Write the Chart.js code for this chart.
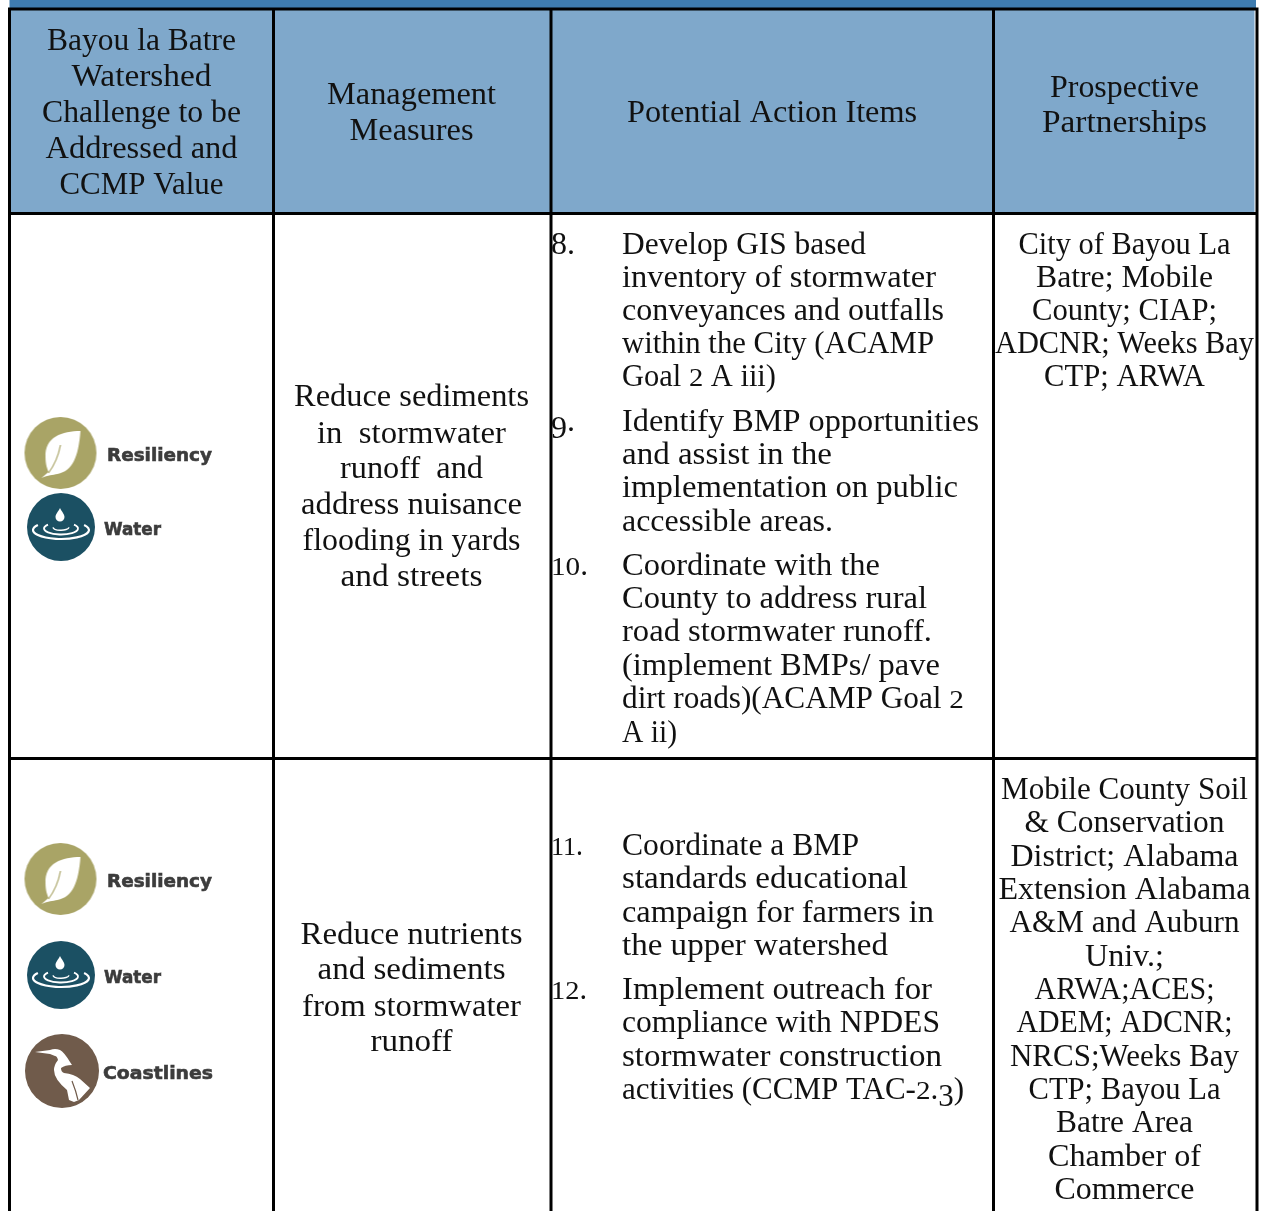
<!DOCTYPE html>
<html>
<head>
<meta charset="utf-8">
<title>Bayou la Batre Watershed</title>
<script src="https://cdn.jsdelivr.net/npm/chart.js@4"></script>
<style>
  html, body { margin: 0; padding: 0; background: #fff; }
  canvas { display: block; }
</style>
</head>
<body>
<canvas id="tableChart" width="1262" height="1211"></canvas>
<script>
// table grid, in picture units
const columnEdges = [9.5, 273.5, 551, 993.5, 1257];
const rowEdges = [9, 213.5, 758.5, 1211];
const columnCentres = [141.5, 411.5, 772, 1124.5];

// header row
const headerOne = ['Bayou la Batre', 'Watershed', 'Challenge to be', 'Addressed and', 'CCMP Value'];
const headerOneY = [50, 86, 122, 158, 194];
const headerOneW = [189, 140, 199, 192, 164];
const headerTwo = ['Management', 'Measures'];
const headerTwoY = [104, 140];
const headerTwoW = [169, 124];
const headerThree = ['Potential Action Items'];
const headerThreeY = [122];
const headerThreeW = [290];
const headerFour = ['Prospective', 'Partnerships'];
const headerFourY = [97, 132];
const headerFourW = [149, 165];

// first body row
const measuresOne = ['Reduce sediments', 'in  stormwater', 'runoff  and', 'address nuisance', 'flooding in yards', 'and streets'];
const measuresOneY = [406, 443, 478, 514, 550, 586];
const measuresOneW = [235, 189, 143, 221, 218, 142];
const actionNumbersOne = ['8.', '9.', '10.'];
const actionNumbersOneY = [254, 431, 575];
const actionNumbersOneW = [24, 24, 37];
const actionsOne = [
  'Develop GIS based', 'inventory of stormwater', 'conveyances and outfalls',
  'within the City (ACAMP', 'Goal 2 A iii)',
  'Identify BMP opportunities', 'and assist in the', 'implementation on public', 'accessible areas.',
  'Coordinate with the', 'County to address rural', 'road stormwater runoff.',
  '(implement BMPs/ pave', 'dirt roads)(ACAMP Goal 2', 'A ii)'
];
const actionsOneY = [254, 287, 320, 353, 386, 431, 464, 497, 531, 575, 608, 641, 675, 708, 742];
const actionsOneW = [244, 314, 322, 312, 154, 357, 210, 336, 211, 258, 305, 310, 318, 342, 55];
const partnersOne = ['City of Bayou La', 'Batre; Mobile', 'County; CIAP;', 'ADCNR; Weeks Bay', 'CTP; ARWA'];
const partnersOneY = [254, 287, 320, 353, 386];
const partnersOneW = [212, 177, 185, 259, 161];

// second body row
const measuresTwo = ['Reduce nutrients', 'and sediments', 'from stormwater', 'runoff'];
const measuresTwoY = [944, 979, 1016, 1051];
const measuresTwoW = [222, 188, 219, 82];
const actionNumbersTwo = ['11.', '12.'];
const actionNumbersTwoY = [855, 999];
const actionNumbersTwoW = [32, 36];
const actionsTwo = [
  'Coordinate a BMP', 'standards educational', 'campaign for farmers in', 'the upper watershed',
  'Implement outreach for', 'compliance with NPDES', 'stormwater construction', 'activities (CCMP TAC-2.3)'
];
const actionsTwoY = [855, 888, 922, 955, 999, 1032, 1066, 1099];
const actionsTwoW = [237, 286, 312, 266, 310, 318, 320, 342];
const partnersTwo = [
  'Mobile County Soil', '& Conservation', 'District; Alabama', 'Extension Alabama',
  'A&M and Auburn', 'Univ.;', 'ARWA;ACES;', 'ADEM; ADCNR;', 'NRCS;Weeks Bay',
  'CTP; Bayou La', 'Batre Area', 'Chamber of', 'Commerce'
];
const partnersTwoY = [799, 832, 866, 899, 932, 966, 999, 1032, 1066, 1099, 1132, 1166, 1199];
const partnersTwoW = [247, 200, 228, 252, 230, 79, 180, 216, 229, 192, 137, 153, 140];

// icon badges and their captions
const resiliencyX = [60.5, 60.5];
const resiliencyY = [453, 879];
const waterX = [61, 61];
const waterY = [527, 975];
const coastlinesX = [62];
const coastlinesY = [1071];
const captions = ['Resiliency', 'Water', 'Resiliency', 'Water', 'Coastlines'];
const captionX = [107, 104, 107, 104, 103];
const captionY = [461, 535, 887, 983, 1079];
const captionW = [105, 57, 105, 57, 110];

const SERIF_SIZE = 31;

function badge(radius, colour, drawGlyph) {
  const size = radius * 2 + 2;
  const c = document.createElement('canvas');
  c.width = size;
  c.height = size;
  const g = c.getContext('2d');
  g.translate(size / 2, size / 2);
  g.beginPath();
  g.arc(0, 0, radius, 0, Math.PI * 2);
  g.fillStyle = colour;
  g.fill();
  g.clip();
  g.fillStyle = '#fff';
  g.strokeStyle = '#fff';
  drawGlyph(g, colour);
  return c;
}

function leaf(g, colour) {
  g.beginPath();
  g.moveTo(20, -22);
  g.bezierCurveTo(2, -22, -16, -16, -15, 4);
  g.bezierCurveTo(-15, 12, -13, 16, -12, 19);
  g.lineTo(-19, 25);
  g.bezierCurveTo(-12, 22, -8, 22, -3, 21);
  g.bezierCurveTo(12, 18, 18, 4, 20, -22);
  g.fill();
  g.beginPath();
  g.moveTo(-12, 20);
  g.quadraticCurveTo(-3, 8, 0, -8);
  g.strokeStyle = colour;
  g.lineWidth = 1.2;
  g.stroke();
}

function ripple(g) {
  g.beginPath();
  g.moveTo(-1, -19);
  g.bezierCurveTo(1, -15, 3.5, -13, 3.5, -10);
  g.arc(-1, -10, 4.5, 0, Math.PI);
  g.bezierCurveTo(-5.5, -13, -3, -15, -1, -19);
  g.fill();
  g.lineWidth = 2.2;
  g.beginPath();
  g.ellipse(0, 3, 28, 9, 0, -0.6, Math.PI + 0.6);
  g.stroke();
  g.lineWidth = 1.8;
  g.beginPath();
  g.ellipse(0, 1.5, 17, 6, 0, -0.7, Math.PI + 0.7);
  g.stroke();
  g.lineWidth = 1.5;
  g.beginPath();
  g.ellipse(0, 0, 8, 3.3, 0, 0.1, Math.PI - 0.1);
  g.stroke();
}

function heron(g, colour) {
  g.beginPath();
  g.moveTo(-27, -19);
  g.lineTo(-12, -21);
  g.quadraticCurveTo(-7, -23, -2, -21);
  g.quadraticCurveTo(2, -19, 8, -9);
  g.lineTo(10, -6);
  g.quadraticCurveTo(3, -6, -1, -3);
  g.quadraticCurveTo(-1, 1, 2, 2);
  g.quadraticCurveTo(12, 3, 18, 8);
  g.lineTo(28, 17);
  g.lineTo(17, 29);
  g.lineTo(12, 31);
  g.lineTo(7, 29);
  g.lineTo(5, 19);
  g.quadraticCurveTo(-8, 8, -8, -1);
  g.quadraticCurveTo(-8, -6, -4, -11);
  g.quadraticCurveTo(-5, -15, -7, -15);
  g.lineTo(-12, -17);
  g.closePath();
  g.fill();
  g.beginPath();
  g.moveTo(10, 10);
  g.quadraticCurveTo(14, 20, 16, 29);
  g.strokeStyle = colour;
  g.lineWidth = 1.2;
  g.stroke();
}

const resiliencyBadge = badge(36, '#a9a466', leaf);
const waterBadge = badge(34, '#1b5063', ripple);
const coastlinesBadge = badge(37, '#705b4b', heron);

function ruleLines() {
  const rules = [];
  columnEdges.forEach(x => {
    rules.push({ x: x, y: rowEdges[0] }, { x: x, y: rowEdges[3] }, { x: NaN, y: NaN });
  });
  rowEdges.slice(0, 3).forEach(y => {
    rules.push({ x: columnEdges[0], y: y }, { x: columnEdges[4], y: y }, { x: NaN, y: NaN });
  });
  return rules;
}

function pairs(xs, ys) {
  return xs.map((x, i) => ({ x: x, y: ys[i] }));
}

// cell fills go under the rule lines
const cellFills = {
  id: 'cellFills',
  beforeDatasetsDraw(chart) {
    const { ctx, scales: { x, y } } = chart;
    const left = x.getPixelForValue(columnEdges[0]);
    const right = x.getPixelForValue(columnEdges[4]);
    ctx.save();
    ctx.fillStyle = '#3f7caf';
    ctx.fillRect(left, 0, right - left - 1, y.getPixelForValue(rowEdges[0]));
    ctx.fillStyle = '#7fa8cb';
    // the header fill stops a pixel short of the right rule in the picture
    ctx.fillRect(left, y.getPixelForValue(rowEdges[0]), right - left - 2.5,
      y.getPixelForValue(rowEdges[1]) - y.getPixelForValue(rowEdges[0]));
    ctx.restore();
  }
};

// the source font has old style figures: 0 1 2 sit at x-height, 3 and 9 hang below the line
function segments(text) {
  return text.split(/([012]+|[39]+)/).filter(s => s.length);
}

function isSmallFigure(seg) {
  return /^[012]/.test(seg);
}

function segmentWidth(ctx, seg) {
  ctx.font = isSmallFigure(seg) ? `${SERIF_SIZE * 0.78}px "Liberation Serif", serif`
    : `${SERIF_SIZE}px "Liberation Serif", serif`;
  return ctx.measureText(seg).width * (isSmallFigure(seg) ? 1.2 : 1);
}

// draws one line stretched to the width it has in the picture
function fitLine(ctx, text, px, py, width, align) {
  const parts = segments(text);
  const natural = parts.reduce((sum, p) => sum + segmentWidth(ctx, p), 0);
  ctx.save();
  ctx.translate(align === 'center' ? px - width / 2 : px, py);
  ctx.scale(width / natural, 1);
  ctx.textAlign = 'left';
  let at = 0;
  parts.forEach(p => {
    const w = segmentWidth(ctx, p);
    ctx.save();
    ctx.translate(at, /^[39]/.test(p) ? 7 : 0);
    if (isSmallFigure(p)) {
      ctx.scale(1.2, 1);
    }
    ctx.fillText(p, 0, 0);
    ctx.restore();
    at += w;
  });
  ctx.restore();
}

// all the cell text, placed through the scales
const cellText = {
  id: 'cellText',
  afterDatasetsDraw(chart) {
    const { ctx, scales: { x, y } } = chart;
    const block = (lines, ys, widths, at, align) => {
      lines.forEach((line, i) => {
        fitLine(ctx, line, x.getPixelForValue(at), y.getPixelForValue(ys[i]), widths[i], align);
      });
    };
    ctx.save();
    ctx.textBaseline = 'alphabetic';
    ctx.fillStyle = '#111';
    block(headerOne, headerOneY, headerOneW, columnCentres[0], 'center');
    block(headerTwo, headerTwoY, headerTwoW, columnCentres[1], 'center');
    block(headerThree, headerThreeY, headerThreeW, columnCentres[2], 'center');
    block(headerFour, headerFourY, headerFourW, columnCentres[3], 'center');
    block(measuresOne, measuresOneY, measuresOneW, columnCentres[1], 'center');
    block(measuresTwo, measuresTwoY, measuresTwoW, columnCentres[1], 'center');
    block(actionNumbersOne, actionNumbersOneY, actionNumbersOneW, columnEdges[2], 'left');
    block(actionNumbersTwo, actionNumbersTwoY, actionNumbersTwoW, columnEdges[2], 'left');
    block(actionsOne, actionsOneY, actionsOneW, 622, 'left');
    block(actionsTwo, actionsTwoY, actionsTwoW, 622, 'left');
    block(partnersOne, partnersOneY, partnersOneW, columnCentres[3], 'center');
    block(partnersTwo, partnersTwoY, partnersTwoW, columnCentres[3], 'center');

    // badge captions are heavier than any bold we have, so they get a thin outline too
    ctx.font = 'bold 18px "DejaVu Sans", sans-serif';
    ctx.fillStyle = '#3c3c3c';
    ctx.strokeStyle = '#3c3c3c';
    ctx.lineWidth = 0.6;
    captions.forEach((t, i) => {
      const natural = ctx.measureText(t).width;
      ctx.save();
      ctx.translate(x.getPixelForValue(captionX[i]), y.getPixelForValue(captionY[i]));
      ctx.scale(captionW[i] / natural, 1);
      ctx.fillText(t, 0, 0);
      ctx.strokeText(t, 0, 0);
      ctx.restore();
    });
    ctx.restore();
  }
};

new Chart(document.getElementById('tableChart').getContext('2d'), {
  type: 'scatter',
  data: {
    datasets: [
      {
        label: 'Rules',
        data: ruleLines(),
        showLine: true,
        spanGaps: false,
        borderColor: '#000',
        borderWidth: 3,
        pointRadius: 0,
        borderCapStyle: 'square'
      },
      { label: 'Resiliency', data: pairs(resiliencyX, resiliencyY), pointStyle: resiliencyBadge },
      { label: 'Water', data: pairs(waterX, waterY), pointStyle: waterBadge },
      { label: 'Coastlines', data: pairs(coastlinesX, coastlinesY), pointStyle: coastlinesBadge }
    ]
  },
  options: {
    responsive: false,
    animation: false,
    layout: { padding: 0, autoPadding: false },
    scales: {
      x: { type: 'linear', display: false, min: 0, max: 1262 },
      y: { type: 'linear', display: false, min: 0, max: 1211, reverse: true }
    },
    plugins: {
      legend: { display: false },
      tooltip: { enabled: false }
    }
  },
  plugins: [cellFills, cellText]
});
</script>
</body>
</html>
